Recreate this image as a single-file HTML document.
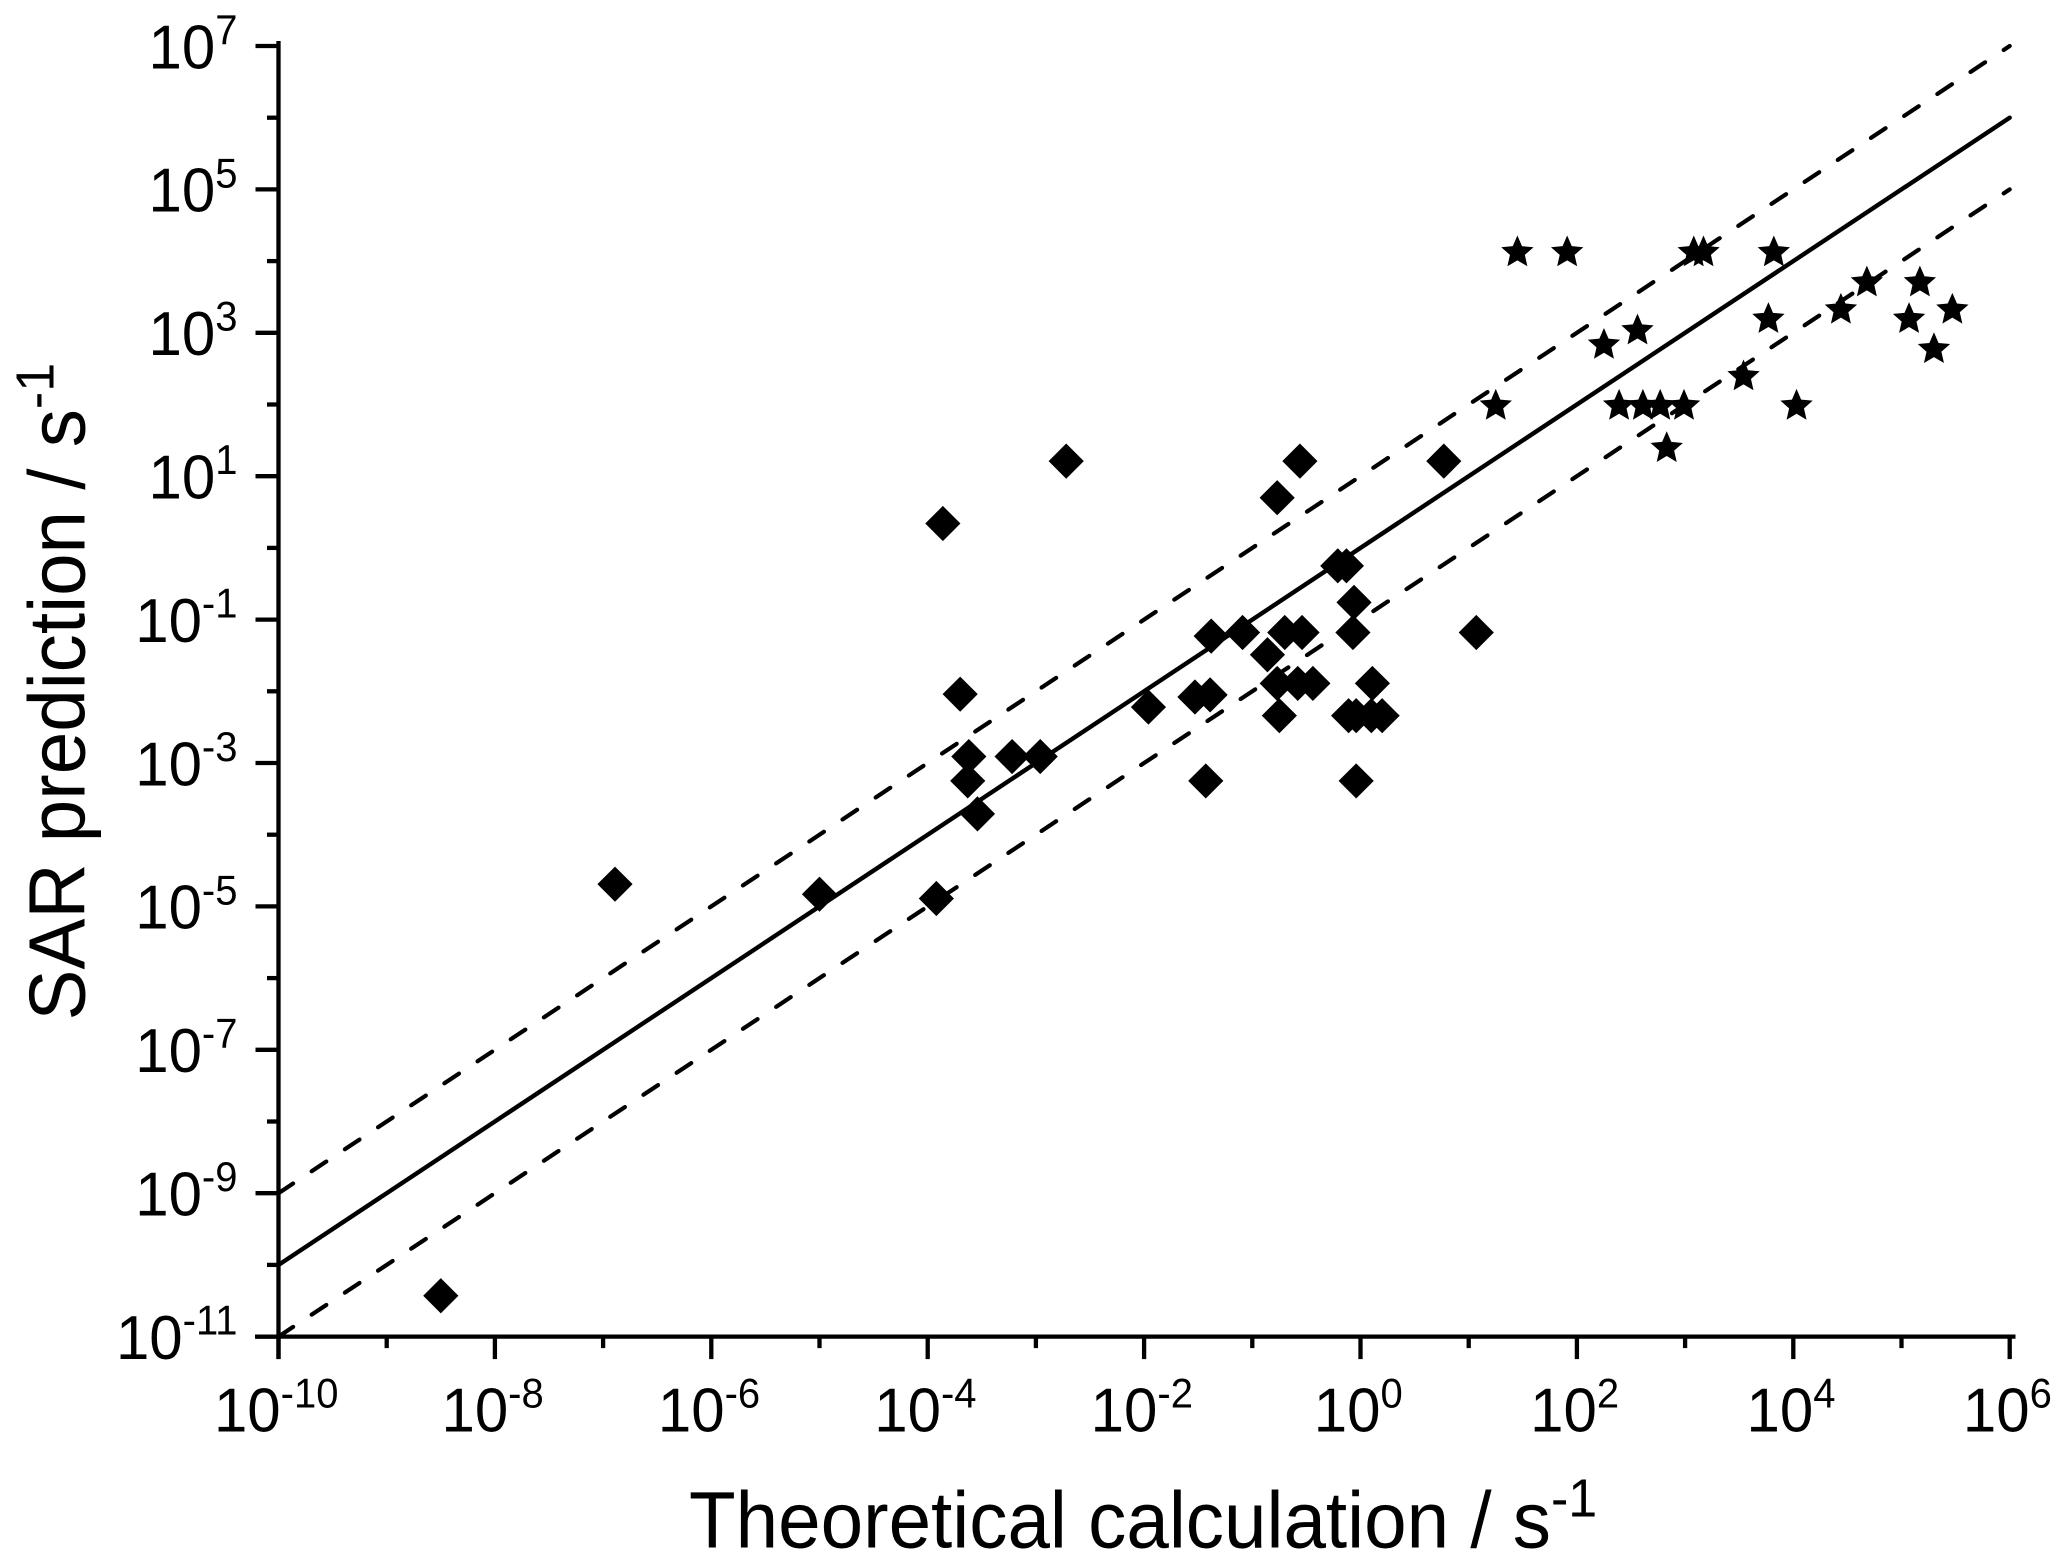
<!DOCTYPE html>
<html lang="en">
<head>
<meta charset="utf-8">
<title>SAR prediction vs theoretical calculation</title>
<style>
  html, body { margin: 0; padding: 0; background: #fff; }
  body { width: 2067px; height: 1564px; overflow: hidden; }
  svg { display: block; }
  text { font-family: "Liberation Sans", Arial, sans-serif; fill: #000; }
</style>
</head>
<body>
<svg id="chart" xmlns="http://www.w3.org/2000/svg" width="2067" height="1564" viewBox="0 0 2067 1564">
  <rect x="0" y="0" width="2067" height="1564" fill="#fff"/>
  <g id="lines"></g>
  <g id="axes"></g>
  <g id="diamonds"></g>
  <g id="stars"></g>
  <text transform="translate(689 1547.7) scale(1 1.04)" x="0" y="0" font-size="76.4">Theoretical calculation / s<tspan dy="-29.8" font-size="52">-1</tspan></text>
  <text transform="translate(84.3 1020.5) rotate(-90) scale(1 1.04)" x="0" y="0" font-size="76.4">SAR prediction / s<tspan dy="-29.8" font-size="52">-1</tspan></text>
</svg>
<script>
// All series values are log10 of the rate in s^-1.
const xTickExponents = [-10, -8, -6, -4, -2, 0, 2, 4, 6];
const yTickExponents = [-11, -9, -7, -5, -3, -1, 1, 3, 5, 7];
const xMinorExponents = [-9, -7, -5, -3, -1, 1, 3, 5];
const yMinorExponents = [-10, -8, -6, -4, -2, 0, 2, 4, 6];
const xTickLabels = ["-10", "-8", "-6", "-4", "-2", "0", "2", "4", "6"];
const yTickLabels = ["-11", "-9", "-7", "-5", "-3", "-1", "1", "3", "5", "7"];

const lineX = [-10, 6];
const parityY = [-10, 6];
const upperBoundY = [-9, 7];
const lowerBoundY = [-11, 5];

const diamondX = [-8.50, -6.89, -5.00, -3.92, -3.86, -2.72, -3.70, -3.62, -3.63, -3.54, -3.22, -2.96, -1.96, -1.53, -1.39, -1.43, -1.38, -1.09, -0.70, -0.54, -0.86, -0.77, -0.58, -0.44, -0.75, -0.77, -0.56, 0.77, -0.21, -0.13, -0.06, -0.07, 0.11, -0.11, -0.04, 0.10, 0.20, -0.04, 1.07];
const diamondY = [-10.43, -4.69, -4.83, -4.89, 0.34, 1.21, -2.04, -2.91, -3.25, -3.71, -2.91, -2.91, -2.22, -2.08, -2.05, -3.25, -1.23, -1.18, -1.18, -1.18, -1.49, -1.89, -1.89, -1.89, -2.34, 0.70, 1.21, 1.21, -0.25, -0.25, -0.76, -1.18, -1.89, -2.34, -2.34, -2.34, -2.34, -3.25, -1.18];

const starX = [1.45, 1.91, 3.08, 3.17, 3.82, 1.25, 2.39, 2.61, 2.77, 2.99, 4.03, 2.25, 2.56, 3.77, 3.54, 4.44, 4.68, 5.17, 5.07, 5.47, 5.30, 2.83];
const starY = [4.12, 4.12, 4.12, 4.12, 4.12, 1.98, 1.98, 1.98, 1.98, 1.98, 1.98, 2.83, 3.03, 3.19, 2.39, 3.32, 3.70, 3.70, 3.19, 3.32, 2.77, 1.39];

const NS = 'http://www.w3.org/2000/svg';
function xScale(e) { return 278.5 + (e + 10) * 108.2; }
function yScale(e) { return 46 + (7 - e) * 71.7; }

function make(tag, parent, attrs) {
  const el = document.createElementNS(NS, tag);
  for (const k in attrs) el.setAttribute(k, attrs[k]);
  parent.appendChild(el);
  return el;
}

const axes = document.getElementById('axes');
const linesGroup = document.getElementById('lines');
const diamonds = document.getElementById('diamonds');
const stars = document.getElementById('stars');
const AXIS_W = 4.3;

// axis lines
const xAxisLine = make('line', axes, { x1: 255, x2: 2015.5, y1: yScale(-11), y2: yScale(-11), stroke: '#000', 'stroke-width': AXIS_W });


const yAxisLine = make('line', axes, { x1: xScale(-10), x2: xScale(-10), y1: 41, y2: 1359, stroke: '#000', 'stroke-width': AXIS_W });



// x ticks
xTickExponents.forEach(function (e, i) {
  const t = make('line', axes, { x1: xScale(e), x2: xScale(e), y1: yScale(-11), y2: yScale(-11) + 22.5, stroke: '#000', 'stroke-width': AXIS_W });
  
  
  const lab = make('text', axes, { transform: 'translate(' + (xScale(e) - 2.3) + ' 1431.7) scale(1 1.04)', x: 0, y: 0, 'font-size': 60, 'text-anchor': 'middle' });
  
  
  lab.appendChild(document.createTextNode('10'));
  const sup = make('tspan', lab, { dy: -23.5, 'font-size': 40 });
  sup.textContent = xTickLabels[i];
});
xMinorExponents.forEach(function (e) {
  const t = make('line', axes, { x1: xScale(e), x2: xScale(e), y1: yScale(-11), y2: yScale(-11) + 11.5, stroke: '#000', 'stroke-width': AXIS_W });
  
  
});

// y ticks
yTickExponents.forEach(function (e, i) {
  const t = make('line', axes, { x1: xScale(-10) - 23, x2: xScale(-10), y1: yScale(e), y2: yScale(e), stroke: '#000', 'stroke-width': AXIS_W });
  
  
  const lab = make('text', axes, { transform: 'translate(237.5 ' + (yScale(e) + 22.3) + ') scale(1 1.04)', x: 0, y: 0, 'font-size': 60, 'text-anchor': 'end' });
  
  
  lab.appendChild(document.createTextNode('10'));
  const sup = make('tspan', lab, { dy: -23.5, 'font-size': 40 });
  sup.textContent = yTickLabels[i];
});
yMinorExponents.forEach(function (e) {
  const t = make('line', axes, { x1: xScale(-10) - 11.5, x2: xScale(-10), y1: yScale(e), y2: yScale(e), stroke: '#000', 'stroke-width': AXIS_W });
  
  
});

// reference lines
const parity = make('line', linesGroup, { x1: xScale(lineX[0]), y1: yScale(parityY[0]), x2: xScale(lineX[1]), y2: yScale(parityY[1]), stroke: '#000', 'stroke-width': 4.4, 'stroke-linecap': 'round' });


const upper = make('line', linesGroup, { x1: xScale(lineX[0]), y1: yScale(upperBoundY[0]), x2: xScale(lineX[1]), y2: yScale(upperBoundY[1]), stroke: '#000', 'stroke-width': 4.2, 'stroke-linecap': 'round', 'stroke-dasharray': '17.5 22.3' });


const lower = make('line', linesGroup, { x1: xScale(lineX[0]), y1: yScale(lowerBoundY[0]), x2: xScale(lineX[1]), y2: yScale(lowerBoundY[1]), stroke: '#000', 'stroke-width': 4.2, 'stroke-linecap': 'round', 'stroke-dasharray': '17.5 22.3' });



// diamond markers
diamondX.forEach(function (v, i) {
  const cx = xScale(v), cy = yScale(diamondY[i]), r = 17.6;
  const pts = [[cx, cy - r], [cx + r, cy], [cx, cy + r], [cx - r, cy]].map(function (p) { return p.join(','); }).join(' ');
  const m = make('polygon', diamonds, { points: pts, fill: '#000' });
  
  
});

// star markers
starX.forEach(function (v, i) {
  const cx = xScale(v), cy = yScale(starY[i]), R = 17, r = R * 0.46;
  const pts = [];
  for (let k = 0; k < 10; k++) {
    const a = -Math.PI / 2 + k * Math.PI / 5;
    const rad = k % 2 === 0 ? R : r;
    pts.push((cx + rad * Math.cos(a)).toFixed(2) + ',' + (cy + rad * Math.sin(a)).toFixed(2));
  }
  const m = make('polygon', stars, { points: pts.join(' '), fill: '#000' });
  
  
});
</script>
</body>
</html>
